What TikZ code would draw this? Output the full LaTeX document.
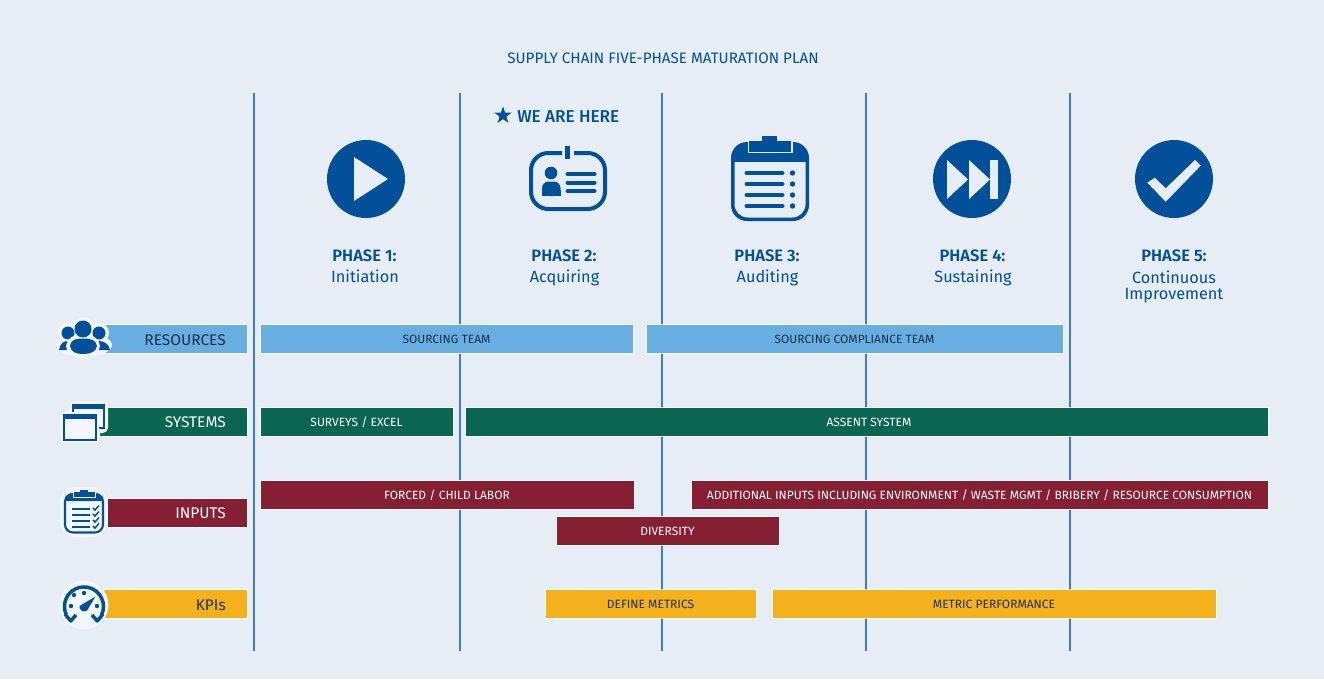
\documentclass[tikz,border=0pt]{standalone}
\usepackage{fontspec}
\setmainfont{Fira Sans}
\newfontfamily\medf{Fira Sans Medium}
\newfontfamily\semif{Fira Sans SemiBold}
\usetikzlibrary{shapes.geometric}
\definecolor{bgc}{HTML}{E6EDF5}
\definecolor{navy}{HTML}{024F9A}
\definecolor{vline}{HTML}{3F7DBB}
\definecolor{halo}{HTML}{F3F6FA}
\definecolor{cres}{HTML}{67AEE2}
\definecolor{csys}{HTML}{0B6650}
\definecolor{cinp}{HTML}{871F32}
\definecolor{ckpi}{HTML}{F5B11C}
\definecolor{ink}{HTML}{1E3247}
\tikzset{
 barbox/.style={draw=white,line width=0.6pt,inner sep=0pt,text height=8.2pt,text depth=0pt,font=\fontsize{9pt}{10pt}\selectfont,anchor=center},
 resbar/.style={barbox,fill=cres,text=ink},
 sysbar/.style={barbox,fill=csys,text=white},
 inpbar/.style={barbox,fill=cinp,text=white},
 kpibar/.style={barbox,fill=ckpi,text=ink},
 catlabel/.style={font=\fontsize{11.6pt}{12pt}\selectfont,anchor=base east,inner sep=0pt},
 phasetext/.style={text=navy,align=center,font=\semif\fontsize{12.4pt}{12pt}\selectfont,anchor=base,inner sep=0pt},
 phasesub/.style={phasetext,font=\fontsize{12.2pt}{12pt}\selectfont},
 phaseline/.style={draw=vline,line width=0.8pt},
 navyline/.style={draw=navy,line cap=round},
}
% \barnode{name}{style}{x1}{x2}{y1}{y2}{text}
\newcommand{\barnode}[7]{%
 \pgfmathsetmacro{\bw}{(#4-#3+1)*0.75}\pgfmathsetmacro{\bh}{(#6-#5+1)*0.75}%
 \node[#2,minimum width=\bw pt,minimum height=\bh pt] (#1) at ({(#3+#4-1)/2},{(#5+#6-1)/2}) {#7};}
\begin{document}
\begin{tikzpicture}[x=0.75pt,y=-0.75pt]
\useasboundingbox (0,0) rectangle (1324,679);
\fill[bgc] (0,0) rectangle (1324,679);
% phase lines
\foreach \px in {254,460,662,866,1070} \draw[phaseline] (\px,93) -- (\px,651);
% title
\node[text=navy,font=\fontsize{11.4pt}{12pt}\selectfont] (title) at (663,58) {SUPPLY CHAIN FIVE-PHASE MATURATION PLAN};
\node[text=navy,font=\medf\fontsize{12.9pt}{12pt}\selectfont,anchor=base west,inner sep=0pt] (here) at (517,122) {WE ARE HERE};
\node[star,star points=5,star point ratio=2.5,fill=navy,inner sep=0pt,minimum size=13.5pt] (hstar) at (503,115.5) {};
% phase 1 icon
\fill[navy] (366,179) circle[radius=39];
\fill[bgc] (354,157) -- (388,179) -- (354,201) -- cycle;
% phase 2 icon
\draw[navy,line width=3pt,rounded corners=13pt] (562,153) -- (531,153) -- (531,209) -- (605,209) -- (605,153) -- (574,153);
\fill[navy] (565,146) rectangle (570,159);
\fill[navy] (551,173) circle[radius=6.3];
\fill[navy,rounded corners=5pt] (542,196) -- (542,181.5) -- (560.5,181.5) -- (560.5,196) -- cycle;
\fill[navy] (542,190) rectangle (560.5,195.5);
\foreach \ly in {174,182.5,191} \draw[navyline,line width=3pt] (567.5,\ly) -- (594.5,\ly);
% phase 3 icon
\fill[navy,rounded corners=12pt] (731,142) rectangle (809,221);
\fill[bgc] (734.5,162) -- (805.5,162) [rounded corners=10pt] -- (805.5,217.5) -- (734.5,217.5) [sharp corners] -- cycle;
\fill[bgc] (747.5,141) rectangle (792.5,153);
\fill[navy] (749,141) rectangle (791,152);
\fill[navy] (762,136) rectangle (777,143);
\foreach \ly in {173,184,195,206} {\draw[navyline,line width=3pt] (746.5,\ly) -- (782.5,\ly); \fill[navy] (792.5,\ly) circle[radius=2.7];}
% phase 4 icon
\fill[navy] (972,179) circle[radius=39];
\fill[bgc] (947,160) -- (968,179.5) -- (947,199) -- cycle;
\fill[bgc] (969,160) -- (990,179.5) -- (969,199) -- cycle;
\fill[bgc] (990,160) rectangle (998,199);
% phase 5 icon
\fill[navy] (1174,179) circle[radius=39];
\fill[bgc] (1147.3,182.7) -- (1154.7,177.7) -- (1165.7,188.3) -- (1195,160) -- (1200.7,165.7) -- (1165.7,201.7) -- cycle;
% phase labels
\node[phasetext] (p1a) at (364.5,261.5) {PHASE 1:};
\node[phasesub] (p1b) at (365,282) {Initiation};
\node[phasetext] (p2a) at (564,261.5) {PHASE 2:};
\node[phasesub] (p2b) at (564.5,282) {Acquiring};
\node[phasetext] (p3a) at (767,261.5) {PHASE 3:};
\node[phasesub] (p3b) at (767.5,282) {Auditing};
\node[phasetext] (p4a) at (972.5,261.5) {PHASE 4:};
\node[phasesub] (p4b) at (973,282) {Sustaining};
\node[phasetext] (p5a) at (1174,261.5) {PHASE 5:};
\node[phasesub] (p5b) at (1174,283.5) {Continuous};
\node[phasesub] (p5c) at (1174,299.5) {Improvement};
% category bars
\fill[cres,draw=white,line width=0.6pt] (100,324.5) rectangle (247,353);
\node[catlabel,text=ink] (lres) at (226,345) {RESOURCES};
\fill[csys,draw=white,line width=0.6pt] (95,407.5) rectangle (247,436);
\node[catlabel,text=white] (lsys) at (226,427) {SYSTEMS};
\fill[cinp,draw=white,line width=0.6pt] (107,498.5) rectangle (247,527);
\node[catlabel,text=white] (linp) at (226,518) {INPUTS};
\fill[ckpi,draw=white,line width=0.6pt] (100,589.5) rectangle (247,618);
\node[catlabel,text=ink] (lkpi) at (226,610) {KPIs};
% timeline bars
\barnode{b1}{resbar}{261}{633}{325}{353}{SOURCING TEAM}
\barnode{b2}{resbar}{647}{1063}{325}{353}{SOURCING COMPLIANCE TEAM}
\barnode{b3}{sysbar}{261}{453}{408}{436}{SURVEYS / EXCEL}
\barnode{b4}{sysbar}{466}{1268}{408}{436}{\hspace{3.7pt}ASSENT SYSTEM}
\barnode{b5}{inpbar}{261}{634}{481}{509}{FORCED / CHILD LABOR}
\barnode{b6}{inpbar}{692}{1268}{481}{509}{ADDITIONAL INPUTS INCLUDING ENVIRONMENT / WASTE MGMT / BRIBERY / RESOURCE CONSUMPTION}
\barnode{b7}{inpbar}{557}{779}{517}{545}{DIVERSITY}
\barnode{b8}{kpibar}{546}{756}{590}{618}{DEFINE METRICS}
\barnode{b9}{kpibar}{773}{1216}{590}{618}{METRIC PERFORMANCE}
% resources icon
\fill[halo] (68,333) circle[radius=10];
\fill[halo] (99,333) circle[radius=10];
\fill[halo] (84,345) ellipse[x radius=28,y radius=12];
\fill[halo] (83,328) circle[radius=11];
\fill[navy] (68,333) circle[radius=6.5];
\fill[navy] (99,333) circle[radius=6.5];
\fill[navy] (59,350) .. controls (60,344) and (63,341) .. (68,341) .. controls (73,341) and (76,344) .. (77,350) -- cycle;
\fill[navy] (110,350) .. controls (109,344) and (104,341) .. (99,341) .. controls (94,341) and (91,344) .. (90,350) -- cycle;
\fill[halo] (83,346) ellipse[x radius=17,y radius=12];
\fill[navy] (83,329) circle[radius=8.5];
\fill[navy] (70,346) .. controls (71,340) and (75,338.5) .. (83,338.5) .. controls (91,338.5) and (96,340) .. (97,346) .. controls (96,352) and (90,354) .. (83,354) .. controls (76,354) and (71,352) .. (70,346) -- cycle;
% systems icon
\fill[halo,rounded corners=4pt] (69,401) rectangle (108,433);
\fill[halo,rounded corners=4pt] (60,411) rectangle (100,443);
\draw[navy,line width=1.8pt,fill=halo] (73,405) rectangle (104,428);
\fill[navy] (73,405) rectangle (104,408.5);
\fill[halo] (61,412) rectangle (99,443);
\draw[navy,line width=1.8pt,fill=halo] (64,415) rectangle (96,440);
\fill[navy] (64,415) rectangle (96,418.5);
% inputs icon
\fill[halo,rounded corners=11pt] (60,487) rectangle (107,537);
\draw[navy,line width=1.6pt,fill=halo,rounded corners=6pt] (65,494) rectangle (103,532.5);
\fill[navy,rounded corners=5pt] (65,501) -- (65,493.5) -- (103,493.5) -- (103,501) -- cycle;
\fill[navy] (65,497) rectangle (103,501);
\draw[halo,line width=0.7pt,fill=navy] (73,491.5) rectangle (95,497.5);
\fill[navy] (80,490) rectangle (88,493);
\foreach \ly in {509,515,521,527} {
 \draw[navy,line width=1.3pt] (72,\ly) -- (90,\ly);
 \draw[navy,line width=1.1pt] (93,\ly-1) -- (95,\ly+1) -- (99,\ly-3.5);}
% kpi icon
\fill[halo] (84,605) circle[radius=24.5];
\draw[navy,line width=2.6pt] (66.3,614.7) arc[start angle=-205,end angle=25,radius=19.5];
\draw[navy,line width=2.6pt,line join=round] (65,614) -- (70.7,621) -- (76,615);
\draw[navy,line width=2.6pt,line join=round] (103,614) -- (97.3,621) -- (92,615);
\foreach \dx/\dy in {71/606,74/595,84/593,97/606} \fill[navy] (\dx,\dy) circle[radius=2.2];
\fill[navy] (95.5,596.5) -- (87,610.5) .. controls (84,613) and (78.5,610) .. (79.5,606) -- cycle;
\end{tikzpicture}
\end{document}
